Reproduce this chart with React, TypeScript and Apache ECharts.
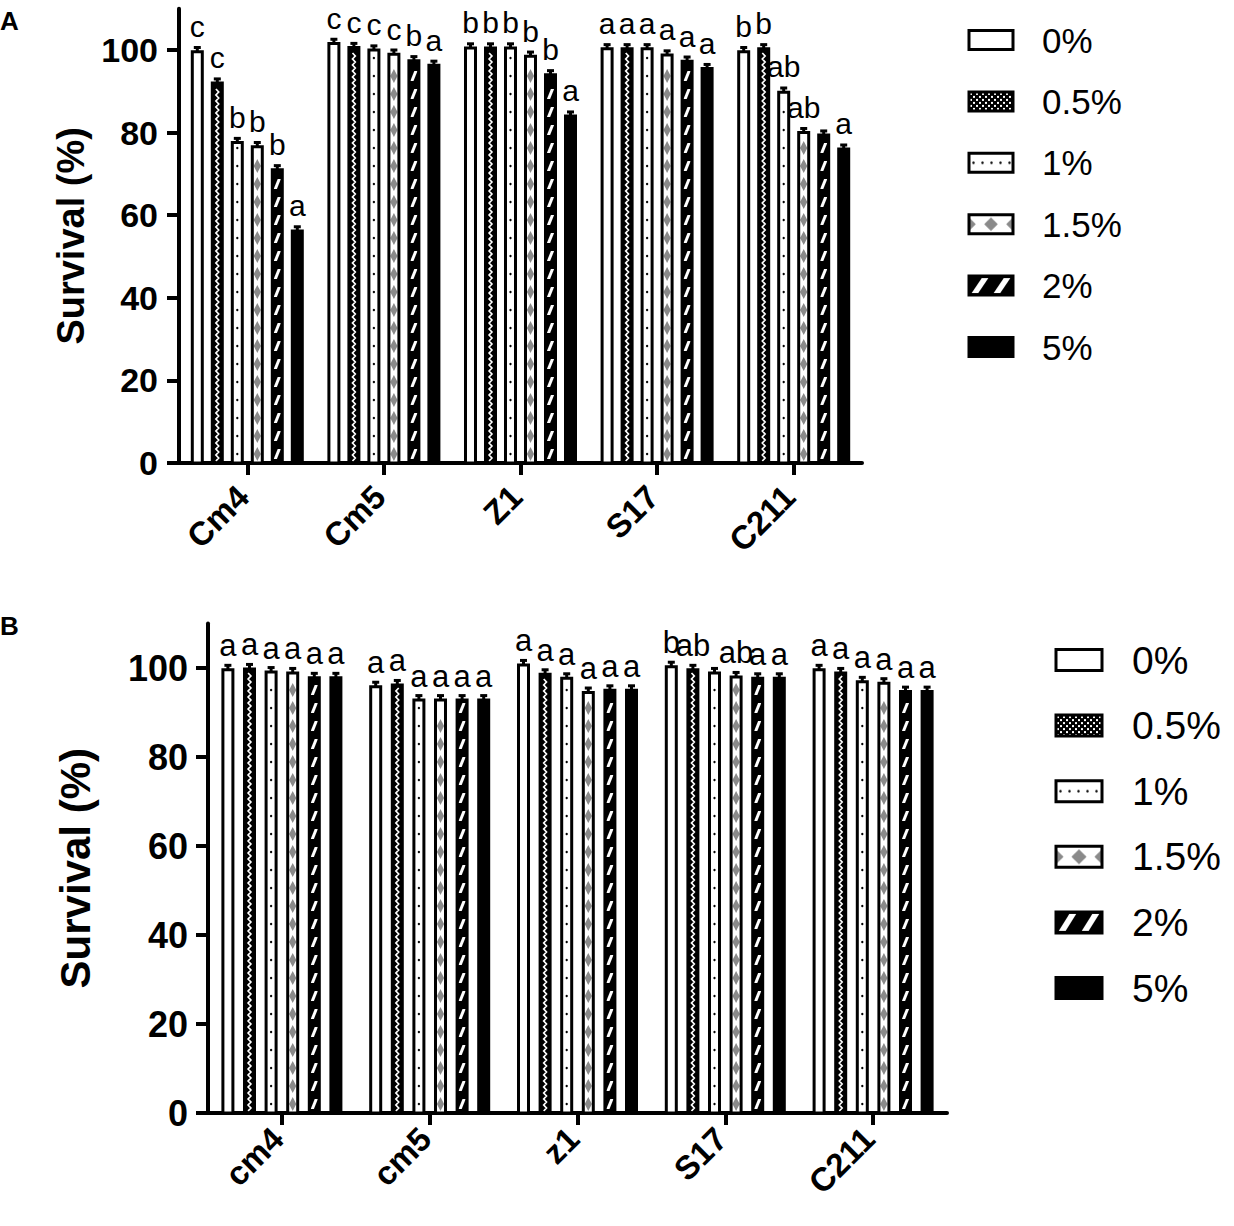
import React, { useEffect, useRef } from 'react';
import * as echarts from 'echarts';

const FONT = '"Liberation Sans", Arial, Helvetica, sans-serif';

const levels = ['0%', '0.5%', '1%', '1.5%', '2%', '5%'];
const catsA = ['Cm4', 'Cm5', 'Z1', 'S17', 'C211'];
const catsB = ['cm4', 'cm5', 'z1', 'S17', 'C211'];
const yTicks = [0, 20, 40, 60, 80, 100];

// Panel A values (survival %), one array per concentration, order: Cm4, Cm5, Z1, S17, C211
const a0 = [99.6, 101.6, 100.5, 100.3, 99.6];
const a05 = [92.0, 100.6, 100.5, 100.3, 100.3];
const a1 = [77.6, 100.0, 100.5, 100.3, 89.8];
const a15 = [76.6, 99.0, 98.5, 98.8, 80.0];
const a2 = [71.0, 97.4, 94.0, 97.3, 79.4];
const a5 = [56.2, 96.3, 84.0, 95.5, 76.0];
const errA0 = [1.0, 1.0, 1.0, 1.0, 1.0];
const errA05 = [1.0, 1.0, 1.0, 1.0, 1.0];
const errA1 = [1.0, 1.0, 1.0, 1.0, 1.0];
const errA15 = [1.0, 1.0, 1.0, 1.0, 1.0];
const errA2 = [1.0, 1.0, 1.0, 1.0, 1.0];
const errA5 = [1.0, 1.0, 1.0, 1.0, 1.0];
const letA0 = ['c', 'c', 'b', 'a', 'b'];
const letA05 = ['c', 'c', 'b', 'a', 'b'];
const letA1 = ['b', 'c', 'b', 'a', 'ab'];
const letA15 = ['b', 'c', 'b', 'a', 'ab'];
const letA2 = ['b', 'b', 'b', 'a', ''];
const letA5 = ['a', 'a', 'a', 'a', 'a'];

// Panel B values, order: cm4, cm5, z1, S17, C211
const b0 = [99.6, 95.8, 100.7, 100.3, 99.6];
const b05 = [99.8, 96.2, 98.6, 99.6, 98.9];
const b1 = [99.1, 92.8, 97.7, 98.9, 96.9];
const b15 = [98.9, 92.8, 94.5, 98.0, 96.6];
const b2 = [97.8, 92.8, 95.0, 97.7, 94.7];
const b5 = [97.8, 92.8, 95.0, 97.7, 94.7];
const errB0 = [1.0, 1.0, 1.0, 1.0, 1.0];
const errB05 = [1.0, 1.0, 1.0, 1.0, 1.0];
const errB1 = [1.0, 1.0, 1.0, 1.0, 1.0];
const errB15 = [1.0, 1.0, 1.0, 1.0, 1.0];
const errB2 = [1.0, 1.0, 1.0, 1.0, 1.0];
const errB5 = [1.0, 1.0, 1.0, 1.0, 1.0];
const letB0 = ['a', 'a', 'a', 'b', 'a'];
const letB05 = ['a', 'a', 'a', 'ab', 'a'];
const letB1 = ['a', 'a', 'a', '', 'a'];
const letB15 = ['a', 'a', 'a', 'ab', 'a'];
const letB2 = ['a', 'a', 'a', 'a', 'a'];
const letB5 = ['a', 'a', 'a', 'a', 'a'];

const valuesA = [a0, a05, a1, a15, a2, a5];
const errorsA = [errA0, errA05, errA1, errA15, errA2, errA5];
const lettersA = [letA0, letA05, letA1, letA15, letA2, letA5];
const valuesB = [b0, b05, b1, b15, b2, b5];
const errorsB = [errB0, errB05, errB1, errB15, errB2, errB5];
const lettersB = [letB0, letB05, letB1, letB15, letB2, letB5];

const kinds = ['plain', 'zig', 'dots', 'diam', 'stripe', 'solid'];

function tile(w: number, h: number, draw: (g: CanvasRenderingContext2D) => void) {
  const c = document.createElement('canvas');
  c.width = w;
  c.height = h;
  const g = c.getContext('2d') as CanvasRenderingContext2D;
  draw(g);
  return { image: c, repeat: 'repeat', imageWidth: w, imageHeight: h } as any;
}

function legendFills(w: number, h: number) {
  const m = h / 2;
  const hw = w / 2;
  const sw = w / 2;
  return [
    '#ffffff',
    tile(6, 6, (g) => {
      g.fillStyle = '#000';
      g.fillRect(0, 0, 6, 6);
      g.fillStyle = '#fff';
      g.fillRect(1, 1, 2, 2);
      g.fillRect(4, 4, 2, 2);
    }),
    tile(9, h, (g) => {
      g.fillStyle = '#fff';
      g.fillRect(0, 0, 9, h);
      g.fillStyle = '#000';
      g.beginPath();
      g.arc(4.5, m, 1.2, 0, Math.PI * 2);
      g.fill();
    }),
    tile(w, h, (g) => {
      g.fillStyle = '#fff';
      g.fillRect(0, 0, w, h);
      g.fillStyle = '#8a8a8a';
      [0, hw, w].forEach((cx) => {
        g.beginPath();
        g.moveTo(cx, m - h * 0.36);
        g.lineTo(cx + h * 0.36, m);
        g.lineTo(cx, m + h * 0.36);
        g.lineTo(cx - h * 0.36, m);
        g.closePath();
        g.fill();
      });
    }),
    tile(sw, h, (g) => {
      g.fillStyle = '#000';
      g.fillRect(0, 0, sw, h);
      g.fillStyle = '#fff';
      g.beginPath();
      g.moveTo(sw * 0.12, h - 2);
      g.lineTo(sw * 0.42, h - 2);
      g.lineTo(sw * 0.88, 2);
      g.lineTo(sw * 0.58, 2);
      g.closePath();
      g.fill();
    }),
    '#000000',
  ];
}

type Cfg = {
  cats: string[];
  values: number[][];
  errors: number[][];
  letters: string[][];
  grid: { left: number; top: number; width: number; height: number };
  step: number;
  bw: number;
  legendLeft: number;
  legendTop: number;
  itemW: number;
  itemH: number;
  legendFont: number;
  lineH: number;
  itemGap: number;
  padLeft: number;
  tickFont: number;
  xFont: number;
  nameFont: number;
  nameGap: number;
  labelMargin: number;
  xMargin: number;
  xPad: number;
  letterFont: number;
  letterGap: number;
  panel: string;
  panelTop: number;
};

function makeRender(s: number, cfg: Cfg) {
  const kind = kinds[s];
  const dark = kind === 'zig' || kind === 'stripe' || kind === 'solid';
  return (params: any, api: any) => {
    const ci = api.value(0);
    const v = api.value(1);
    const e = api.value(2);
    const base = api.coord([ci, 0]);
    const top = api.coord([ci, v]);
    const et = api.coord([ci, v + e]);
    const cx = base[0] + (s - 2.5) * cfg.step;
    const bw = cfg.bw;
    const x0 = cx - bw / 2;
    const yb = base[1];
    const yt = top[1];
    const children: any[] = [];
    children.push({
      type: 'rect',
      shape: { x: x0, y: yt, width: bw, height: yb - yt },
      style: { fill: dark ? '#000' : '#fff' },
    });
    if (kind === 'zig') {
      const pts: number[][] = [];
      let k = 0;
      for (let y = yb - 2; y > yt + 3; y -= 3) {
        pts.push([cx + (k % 2 === 0 ? -1.4 : 1.4), y]);
        k++;
      }
      children.push({
        type: 'polyline',
        shape: { points: pts },
        style: { stroke: '#fff', lineWidth: 1.7, fill: null },
      });
    } else if (kind === 'dots') {
      for (let y = yb - 9; y > yt + 5; y -= 18) {
        children.push({ type: 'circle', shape: { cx, cy: y, r: 1.2 }, style: { fill: '#000' } });
      }
    } else if (kind === 'diam') {
      for (let y = yb - 9; y - 7 > yt + 2; y -= 18) {
        children.push({
          type: 'polygon',
          shape: { points: [[cx, y - 7], [cx + 3.6, y], [cx, y + 7], [cx - 3.6, y]] },
          style: { fill: '#8a8a8a' },
        });
      }
    } else if (kind === 'stripe') {
      for (let y = yb - 9; y - 5 > yt + 2; y -= 18) {
        children.push({
          type: 'polygon',
          shape: { points: [[cx - 3.6, y + 5], [cx - 0.4, y + 5], [cx + 3.6, y - 5], [cx + 0.4, y - 5]] },
          style: { fill: '#fff' },
        });
      }
    }
    children.push({
      type: 'rect',
      shape: { x: x0, y: yt, width: bw, height: yb - yt },
      style: { fill: 'none', stroke: '#000', lineWidth: 3 },
    });
    children.push({
      type: 'line',
      shape: { x1: cx, y1: yt, x2: cx, y2: et[1] },
      style: { stroke: '#000', lineWidth: 3 },
    });
    children.push({
      type: 'line',
      shape: { x1: cx - 3.5, y1: et[1], x2: cx + 3.5, y2: et[1] },
      style: { stroke: '#000', lineWidth: 3 },
    });
    const letter = cfg.letters[s][params.dataIndex];
    if (letter) {
      children.push({
        type: 'text',
        x: cx,
        y: et[1] - cfg.letterGap,
        style: {
          text: letter,
          fill: '#000',
          fontSize: cfg.letterFont,
          fontFamily: FONT,
          align: 'center',
          verticalAlign: 'bottom',
        },
      });
    }
    return { type: 'group', children };
  };
}

function buildOption(cfg: Cfg) {
  const fills = legendFills(cfg.itemW, cfg.itemH);
  return {
    animation: false,
    backgroundColor: '#ffffff',
    textStyle: { fontFamily: FONT },
    grid: { ...cfg.grid, containLabel: false, outerBoundsMode: 'none' },
    graphic: [
      {
        type: 'text',
        left: 0,
        top: cfg.panelTop,
        style: { text: cfg.panel, fontSize: 26, fontWeight: 'bold', fontFamily: FONT, fill: '#000' },
      },
    ],
    legend: {
      orient: 'vertical',
      left: cfg.legendLeft,
      top: cfg.legendTop,
      padding: 0,
      icon: 'rect',
      itemWidth: cfg.itemW,
      itemHeight: cfg.itemH,
      itemGap: cfg.itemGap,
      data: levels,
      selectedMode: false,
      itemStyle: { borderColor: '#000', borderWidth: 3 },
      textStyle: {
        fontFamily: FONT,
        fontSize: cfg.legendFont,
        lineHeight: cfg.lineH,
        color: '#000',
        padding: [0, 0, 0, cfg.padLeft],
      },
    },
    xAxis: {
      type: 'category',
      data: cfg.cats,
      axisLine: { show: true, lineStyle: { color: '#000', width: 4 } },
      axisTick: { show: true, alignWithLabel: true, length: 12, lineStyle: { color: '#000', width: 4 } },
      axisLabel: {
        interval: 0,
        rotate: 45,
        margin: cfg.xMargin,
        padding: [0, cfg.xPad, 0, 0],
        color: '#000',
        fontSize: cfg.xFont,
        fontWeight: 'bold',
        fontFamily: FONT,
      },
      splitLine: { show: false },
    },
    yAxis: {
      type: 'value',
      min: 0,
      max: 110,
      interval: 20,
      name: 'Survival (%)',
      nameLocation: 'middle',
      nameGap: cfg.nameGap,
      nameTextStyle: { color: '#000', fontSize: cfg.nameFont, fontWeight: 'bold', fontFamily: FONT },
      axisLine: { show: true, lineStyle: { color: '#000', width: 4 } },
      axisTick: { show: true, length: 12, lineStyle: { color: '#000', width: 4 }, customValues: yTicks },
      axisLabel: {
        customValues: yTicks,
        margin: cfg.labelMargin,
        color: '#000',
        fontSize: cfg.tickFont,
        fontWeight: 'bold',
        fontFamily: FONT,
      },
      splitLine: { show: false },
    },
    series: levels.map((lv, s) => ({
      type: 'custom',
      name: lv,
      clip: false,
      itemStyle: { color: fills[s], borderColor: '#000', borderWidth: 3 },
      encode: { x: 0, y: 1 },
      data: cfg.values[s].map((v, i) => [i, v, cfg.errors[s][i]]),
      renderItem: makeRender(s, cfg),
    })),
  };
}

const cfgA: Cfg = {
  cats: catsA,
  values: valuesA,
  errors: errorsA,
  letters: lettersA,
  grid: { left: 179, top: 8.7, width: 683, height: 454.3 },
  step: 20,
  bw: 10,
  legendLeft: 967.5,
  legendTop: 21,
  itemW: 44,
  itemH: 19,
  legendFont: 35,
  lineH: 38,
  itemGap: 23.4,
  padLeft: 24,
  tickFont: 34,
  xFont: 33,
  nameFont: 38,
  nameGap: 78,
  labelMargin: 21,
  xMargin: 24,
  xPad: 6,
  letterFont: 30,
  letterGap: 6,
  panel: 'A',
  panelTop: 8,
};

const cfgB: Cfg = {
  cats: catsB,
  values: valuesB,
  errors: errorsB,
  letters: lettersB,
  grid: { left: 208, top: 66.5, width: 739, height: 489.5 },
  step: 21.6,
  bw: 10,
  legendLeft: 1054.5,
  legendTop: 82,
  itemW: 46,
  itemH: 21,
  legendFont: 39,
  lineH: 42,
  itemGap: 23.6,
  padLeft: 25,
  tickFont: 36,
  xFont: 33,
  nameFont: 42,
  nameGap: 112,
  labelMargin: 20,
  xMargin: 16,
  xPad: 6,
  letterFont: 31,
  letterGap: 4,
  panel: 'B',
  panelTop: 56,
};

function Panel({ cfg, height }: { cfg: Cfg; height: number }) {
  const ref = useRef<HTMLDivElement>(null);
  useEffect(() => {
    if (!ref.current) return;
    const chart = echarts.init(ref.current, undefined, { renderer: 'svg' });
    chart.setOption(buildOption(cfg) as any);
    return () => chart.dispose();
  }, [cfg]);
  return <div ref={ref} style={{ width: 1234, height, overflow: 'hidden' }} />;
}

export default function App() {
  useEffect(() => {
    document.body.style.margin = '0';
  }, []);
  return (
    <div style={{ width: 1234, height: 1226, background: '#fff' }}>
      <Panel cfg={cfgA} height={557} />
      <Panel cfg={cfgB} height={669} />
    </div>
  );
}
